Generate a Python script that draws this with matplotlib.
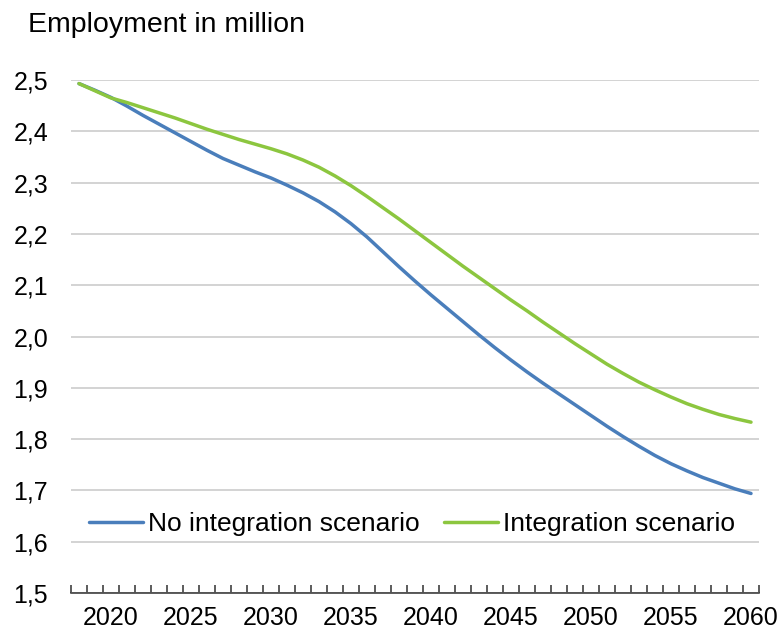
import matplotlib
matplotlib.use("Agg")
import matplotlib.pyplot as plt
from matplotlib.ticker import FixedLocator, FuncFormatter

plt.rcParams['font.family'] = ['Liberation Sans', 'DejaVu Sans']

years = list(range(2018, 2061))
no_integration = [2.493, 2.480, 2.466, 2.449, 2.431, 2.414, 2.397, 2.380, 2.363, 2.347,
                  2.334, 2.321, 2.309, 2.295, 2.280, 2.263, 2.243, 2.220, 2.194, 2.165,
                  2.136, 2.108, 2.081, 2.055, 2.029, 2.003, 1.978, 1.954, 1.931, 1.909,
                  1.888, 1.867, 1.846, 1.825, 1.805, 1.786, 1.768, 1.752, 1.738, 1.725,
                  1.714, 1.703, 1.694]
integration = [2.493, 2.479, 2.465, 2.456, 2.446, 2.436, 2.426, 2.415, 2.404, 2.394,
               2.384, 2.375, 2.366, 2.356, 2.344, 2.330, 2.313, 2.294, 2.273, 2.251,
               2.229, 2.206, 2.183, 2.160, 2.137, 2.115, 2.093, 2.071, 2.050, 2.028,
               2.007, 1.986, 1.966, 1.946, 1.928, 1.911, 1.896, 1.882, 1.869, 1.858,
               1.848, 1.840, 1.833]
label_years = [2020, 2025, 2030, 2035, 2040, 2045, 2050, 2055, 2060]
y_ticks = [1.5, 1.6, 1.7, 1.8, 1.9, 2.0, 2.1, 2.2, 2.3, 2.4, 2.5]

fig = plt.figure(figsize=(7.82, 6.30), dpi=100)
ax = fig.add_axes([71/782, 1-593/630, (759-71)/782, (593-80)/630])

x = list(range(len(years)))
ax.plot(x, no_integration, color='#4A7EBB', lw=2.5, label='No integration scenario',
        solid_capstyle='round', solid_joinstyle='round')
ax.plot(x, integration, color='#8CC63F', lw=2.5, label='Integration scenario',
        solid_capstyle='round', solid_joinstyle='round')

ax.set_xlim(-0.5, len(years) - 0.5)
ax.set_ylim(1.5, 2.5)

ax.set_yticks(y_ticks)
ax.yaxis.set_major_formatter(FuncFormatter(lambda v, p: f"{v:.1f}".replace('.', ',')))
ax.tick_params(axis='y', length=0, pad=16.5, labelsize=18)
ax.grid(axis='y', color='#D0D0D0', lw=1.3)
ax.set_axisbelow(True)

ax.xaxis.set_major_locator(FixedLocator([years.index(y) for y in label_years]))
ax.set_xticklabels([str(y) for y in label_years])
ax.xaxis.set_minor_locator(FixedLocator([i - 0.5 for i in range(len(years) + 1)]))
ax.tick_params(axis='x', which='major', length=0, pad=9.5, labelsize=18)
ax.tick_params(axis='x', which='minor', direction='in', length=5.5, width=1.1, color='#303030')

for s in ['top', 'right', 'left']:
    ax.spines[s].set_visible(False)
ax.spines['bottom'].set_color('#303030')
ax.spines['bottom'].set_linewidth(1.1)

fig.text(28/782, 1-31.5/630, 'Employment in million', fontsize=20.5, va='baseline', ha='left')

leg = ax.legend(loc='center', ncol=2, frameon=False, fontsize=19, handlelength=2.05,
                columnspacing=0.95, handletextpad=0.19, borderaxespad=0, borderpad=0)
leg.set_bbox_to_anchor(((412-71)/688, (593-524)/513), transform=ax.transAxes)

fig.savefig('out.png', dpi=100)
